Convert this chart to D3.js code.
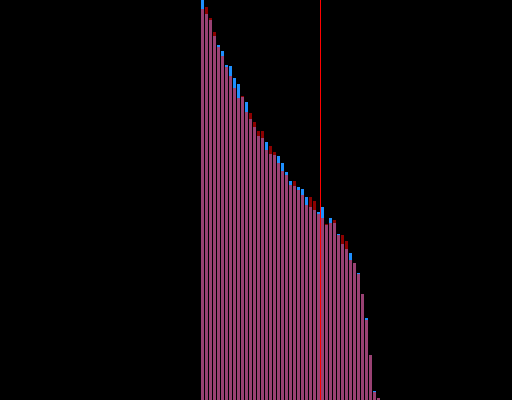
<!DOCTYPE html>
<html>
<head>
<meta charset="utf-8">
<script src="https://cdn.jsdelivr.net/npm/d3@7"></script>
<style>
  html, body { margin: 0; padding: 0; background: #000; }
  svg { display: block; }
</style>
</head>
<body>
<div id="chart"></div>
<script>
// two series, sorted, drawn one over the other
var blueVals = [100, 96.5, 95, 91, 88.75, 87.25, 83.75, 83.5, 80.5, 79,
  75.75, 74.5, 70.25, 68.25, 66, 65.5, 64.5, 61.5, 61.25, 61,
  59.25, 57, 54.75, 53.5, 53.25, 52.75, 50.75, 48.25, 47.5, 47,
  48.25, 43.75, 45.5, 44.25, 41.5, 39, 37.75, 36.75, 34.25, 31.75,
  26.5, 20.5, 11.25, 2.25, 0.5];
var redVals = [97.75, 98.25, 95.5, 92, 88.25, 86, 83.25, 81, 78, 75.5,
  76, 72, 71.75, 69.5, 67.25, 67.25, 62.5, 63.5, 62, 59.25,
  57.25, 56.25, 53.75, 54.75, 52.5, 51.25, 48.75, 50.75, 49.75, 46.5,
  45.5, 44, 44.25, 45, 41.25, 41.25, 39.75, 35, 34.25, 31.5,
  26.5, 20, 11.25, 2, 0.5];
var markerIndex = 30;

var width = 512, height = 400;

var x = d3.scaleBand()
  .domain(d3.range(blueVals.length))
  .range([201, 380])
  .paddingInner(0.25)
  .paddingOuter(0);

var y = d3.scaleLinear().domain([0, 100]).range([height, 0]);

var svg = d3.select("#chart")
  .append("svg")
  .attr("width", width)
  .attr("height", height)
  .style("background", "#000");

svg.append("g")
  .selectAll("rect")
  .data(blueVals)
  .join("rect")
  .attr("x", (d, i) => x(i))
  .attr("y", (d) => y(d))
  .attr("width", x.bandwidth())
  .attr("height", (d) => height - y(d))
  .attr("fill", "#1e90ff")
  .attr("shape-rendering", "crispEdges");

svg.append("g")
  .selectAll("rect")
  .data(redVals)
  .join("rect")
  .attr("x", (d, i) => x(i))
  .attr("y", (d) => y(d))
  .attr("width", x.bandwidth())
  .attr("height", (d) => height - y(d))
  .attr("fill", "#ff0000")
  .attr("fill-opacity", 0.55)
  .attr("shape-rendering", "crispEdges");

// marker line in the gap before the marker bar
var mx = x(markerIndex) - (x.step() - x.bandwidth()) / 2;
svg.append("line")
  .attr("x1", mx)
  .attr("x2", mx)
  .attr("y1", 0)
  .attr("y2", height)
  .attr("stroke", "#ff0000")
  .attr("stroke-width", 1);
</script>
</body>
</html>
